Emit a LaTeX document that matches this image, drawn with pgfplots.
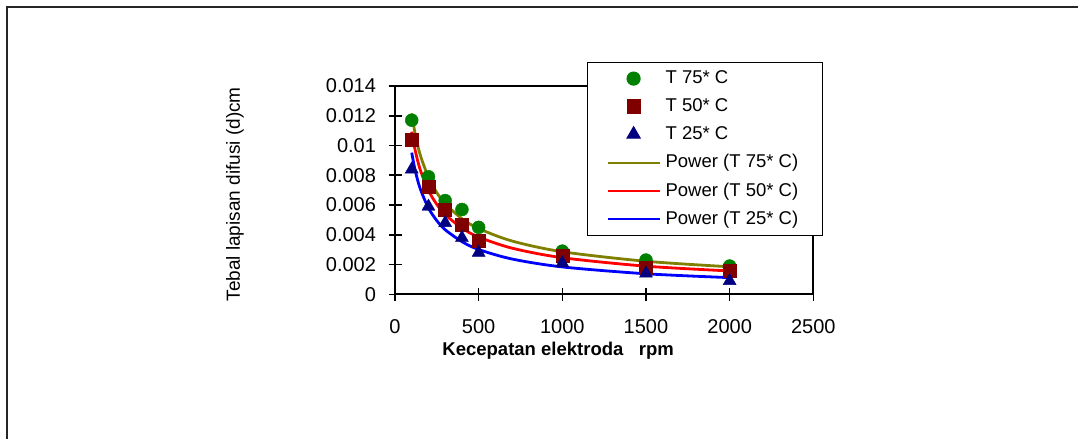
\documentclass[border=0pt]{standalone}
\usepackage{fontspec}
\setmainfont{Liberation Sans}
\usepackage{pgfplots}
\pgfplotsset{compat=1.18}
\definecolor{cgreen}{HTML}{008000}
\definecolor{cmaroon}{HTML}{800000}
\definecolor{cnavy}{HTML}{000080}
\definecolor{colive}{HTML}{808000}
\definecolor{cred}{HTML}{FF0000}
\definecolor{cblue}{HTML}{0000FF}
\newcommand\lf{\fontsize{18.5bp}{22bp}\selectfont}
\newcommand\tf{\fontsize{20bp}{24bp}\selectfont}
\pgfplotsset{
  markleg/.style={legend image code/.code={\draw[mark repeat=2,mark phase=2,##1] plot coordinates {(0bp,0bp) (26bp,0bp) (52bp,0bp)};}},
  lineleg/.style={legend image code/.code={\draw[##1, line width=2bp] (0bp,0bp) -- (52bp,0bp);}},
}

\begin{document}
\begin{tikzpicture}
\useasboundingbox (0bp,0bp) rectangle (1078bp,-439bp);
\draw[line width=2.2bp, black!85] (7bp,-439bp) -- (7bp,-7bp) -- (1078bp,-7bp);
\begin{axis}[
  at={(395bp,-294.3bp)}, anchor=south west,
  scale only axis, width=418.3bp, height=208.3bp,
  xmin=0, xmax=2500, ymin=0, ymax=0.014,
  xtick={0,500,1000,1500,2000,2500},
  xticklabels={0,500,1000,1500,2000,2500},
  ytick={0,0.002,0.004,0.006,0.008,0.01,0.012,0.014},
  yticklabels={0,0.002,0.004,0.006,0.008,0.01,0.012,0.014},
  scaled y ticks=false,
  tick pos=left, tick align=center, major tick length=13bp,
  axis line style={line width=2bp},
  major tick style={line width=1.6bp, black},
  tick label style={font=\tf},
  /pgf/number format/assume math mode=true,
  xticklabel style={yshift=-15bp},
  yticklabel style={xshift=-9bp},
  xlabel={\bfseries Kecepatan elektroda\ \ \ rpm},
  xlabel style={font=\lf, at={(axis description cs:0.39,-0.272)}, anchor=center},
  ylabel={Tebal lapisan difusi (d)cm},
  ylabel style={font=\fontsize{19bp}{23bp}\selectfont, at={(axis description cs:-0.3825,0.48)}, anchor=center},
  legend cell align=left,
  legend style={at={(axis description cs:0.459,1.115)}, anchor=north west,
    draw=black, line width=1.2bp, fill=white, font=\lf,
    inner xsep=19bp, inner ysep=6bp, row sep=8bp,
    nodes={inner xsep=5bp, text depth=0.3em}},
  clip=false,
]
\addplot[only marks, mark=*, mark size=6.5bp, cgreen, markleg]
  coordinates {(100,0.0117) (200,0.0079) (300,0.0063) (400,0.0057) (500,0.0045) (1000,0.0029) (1500,0.0023) (2000,0.0019)};
\addlegendentry{T 75* C}
\addplot[only marks, mark=square*, mark size=6.5bp, cmaroon, markleg]
  coordinates {(100,0.0104) (200,0.0072) (300,0.0057) (400,0.0047) (500,0.0036) (1000,0.0026) (1500,0.0018) (2000,0.0016)};
\addlegendentry{T 50* C}
\addplot[only marks, mark=triangle*, mark size=7.5bp, cnavy, markleg]
  coordinates {(100,0.0084) (200,0.0059) (300,0.0048) (400,0.0038) (500,0.0028) (1000,0.0021) (1500,0.0014) (2000,0.0009)};
\addlegendentry{T 25* C}
\addplot[colive, line width=2.8bp, smooth, no marks, lineleg]
  coordinates {(100,0.01216) (120,0.01082) (150,0.00940) (200,0.00786) (250,0.00683) (300,0.00609) (400,0.00508) (500,0.00442) (700,0.00358) (1000,0.00286) (1500,0.00222) (2000,0.00185)};
\addlegendentry{Power (T 75* C)}
\addplot[cred, line width=2.8bp, smooth, no marks, lineleg]
  coordinates {(100,0.01093) (120,0.00971) (150,0.00840) (200,0.00698) (250,0.00604) (300,0.00536) (400,0.00445) (500,0.00385) (700,0.00310) (1000,0.00246) (1500,0.00189) (2000,0.00157)};
\addlegendentry{Power (T 50* C)}
\addplot[cblue, line width=2.8bp, smooth, no marks, lineleg]
  coordinates {(100,0.00952) (120,0.00836) (150,0.00712) (200,0.00580) (250,0.00495) (300,0.00434) (400,0.00354) (500,0.00301) (700,0.00237) (1000,0.00184) (1500,0.00138) (2000,0.00112)};
\addlegendentry{Power (T 25* C)}
\end{axis}
\end{tikzpicture}
\end{document}
